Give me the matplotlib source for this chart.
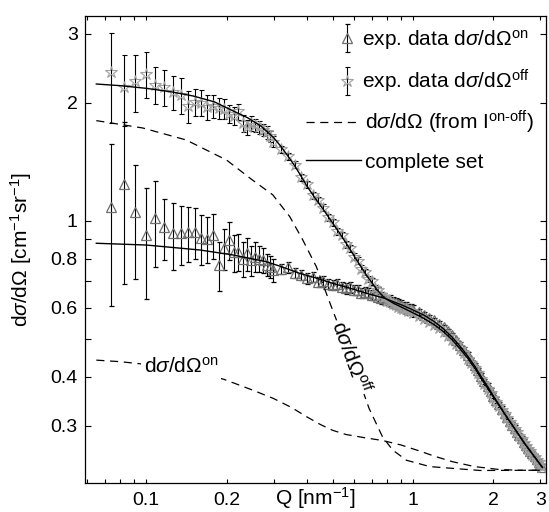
import matplotlib
matplotlib.use("Agg")
import matplotlib.pyplot as plt
from matplotlib.container import ErrorbarContainer
from matplotlib.legend_handler import HandlerErrorbar

plt.rcParams['font.family'] = ['Liberation Sans', 'DejaVu Sans']
plt.rcParams['mathtext.fontset'] = 'custom'
plt.rcParams['mathtext.rm'] = 'Liberation Sans'
plt.rcParams['mathtext.it'] = 'Liberation Sans:italic'
plt.rcParams['mathtext.bf'] = 'Liberation Sans:bold'
plt.rcParams['font.size'] = 15

# ---- measured data (Q in nm^-1) ----
q_lo = [0.0735, 0.0822, 0.0909, 0.0996, 0.1083, 0.117, 0.1257, 0.1344, 0.1431,
        0.1518, 0.1605, 0.1692, 0.1779, 0.1866, 0.1953, 0.204, 0.2127, 0.2214,
        0.2301, 0.2388, 0.2475, 0.2562, 0.2649, 0.2736, 0.2823, 0.291, 0.2997]
q_mid = [0.32, 0.34, 0.36, 0.38, 0.40, 0.42, 0.44, 0.46, 0.48, 0.50, 0.52, 0.54,
         0.56, 0.58, 0.60, 0.62, 0.64, 0.66, 0.68, 0.70, 0.72, 0.74, 0.76, 0.78,
         0.80, 0.82, 0.84, 0.86, 0.88, 0.90, 0.92, 0.94, 0.96, 0.98, 1.00]
q_hi = [1.05, 1.10, 1.15, 1.20, 1.25, 1.30, 1.35, 1.40, 1.45, 1.50, 1.55, 1.60,
        1.65, 1.70, 1.75, 1.80, 1.85, 1.90, 1.95, 2.00, 2.05, 2.10, 2.15, 2.20,
        2.25, 2.30, 2.35, 2.40, 2.45, 2.50, 2.55, 2.60, 2.65, 2.70, 2.75, 2.80,
        2.85, 2.90, 2.95, 3.00, 3.05]

# dσ/dΩ "on" (triangles)
on_lo = [1.086, 1.24, 1.05, 0.92, 1.014, 0.965, 0.929, 0.929, 0.937, 0.937, 0.902,
         0.90, 0.92, 0.771, 0.85, 0.893, 0.83, 0.834, 0.80, 0.826, 0.794, 0.81,
         0.80, 0.794, 0.771, 0.763, 0.748]
on_lo_err = [0.48, 0.55, 0.34, 0.29, 0.25, 0.17, 0.18, 0.16, 0.15, 0.14, 0.13,
             0.12, 0.12, 0.11, 0.10, 0.10, 0.09, 0.09, 0.08, 0.08, 0.07, 0.07,
             0.06, 0.06, 0.05, 0.05, 0.05]
on_mid = [0.755, 0.76, 0.735, 0.727, 0.713, 0.72, 0.699, 0.70, 0.69, 0.686, 0.69,
          0.679, 0.672, 0.676, 0.666, 0.667, 0.655, 0.658, 0.653, 0.646, 0.648,
          0.64, 0.634, 0.636, 0.628, 0.627, 0.619, 0.617, 0.612, 0.608, 0.604,
          0.601, 0.597, 0.595, 0.592]
on_hi = [0.585, 0.576, 0.566, 0.557, 0.546, 0.535, 0.522, 0.51, 0.496, 0.482,
         0.468, 0.455, 0.441, 0.428, 0.415, 0.402, 0.39, 0.379, 0.368, 0.358,
         0.349, 0.34, 0.331, 0.323, 0.316, 0.309, 0.302, 0.296, 0.29, 0.284,
         0.279, 0.273, 0.268, 0.264, 0.259, 0.255, 0.251, 0.247, 0.243, 0.239,
         0.236]
on_rel_err_mid = 0.03
on_rel_err_hi = 0.015

# dσ/dΩ "off" (stars)
off_lo = [2.39, 2.19, 2.27, 2.37, 2.22, 2.19, 2.13, 2.09, 1.96, 2.01, 2.00, 1.95,
          1.96, 1.94, 1.93, 1.87, 1.85, 1.90, 1.77, 1.73, 1.77, 1.75, 1.73, 1.70,
          1.68, 1.64, 1.59]
off_lo_err = [0.62, 0.45, 0.38, 0.32, 0.24, 0.23, 0.21, 0.22, 0.18, 0.16, 0.15,
              0.14, 0.13, 0.12, 0.11, 0.10, 0.10, 0.09, 0.09, 0.08, 0.08, 0.07,
              0.07, 0.06, 0.06, 0.05, 0.05]
off_mid = [1.52, 1.46, 1.39, 1.29, 1.24, 1.16, 1.13, 1.08, 1.02, 0.99, 0.94, 0.92,
           0.87, 0.85, 0.81, 0.79, 0.755, 0.74, 0.71, 0.70, 0.672, 0.665, 0.645,
           0.64, 0.625, 0.62, 0.612, 0.61, 0.604, 0.60, 0.596, 0.594, 0.588,
           0.587, 0.58]
off_hi = [0.572, 0.562, 0.553, 0.542, 0.533, 0.52, 0.509, 0.496, 0.484, 0.47,
          0.459, 0.445, 0.433, 0.42, 0.408, 0.394, 0.384, 0.372, 0.364, 0.353,
          0.345, 0.337, 0.329, 0.321, 0.314, 0.307, 0.301, 0.294, 0.289, 0.282,
          0.278, 0.271, 0.267, 0.262, 0.258, 0.253, 0.25, 0.246, 0.242, 0.238,
          0.235]
off_rel_err_mid = 0.02
off_rel_err_hi = 0.012

# ---- model curves ----
fit_on_q = [0.065, 0.1, 0.159, 0.211, 0.282, 0.32, 0.376, 0.44, 0.501, 0.58, 0.669,
            0.783, 0.9, 1.0, 1.1, 1.2, 1.3, 1.4, 1.5, 1.6, 1.7, 1.8, 1.9, 2.0,
            2.2, 2.4, 2.6, 2.8, 3.05]
fit_on_v = [0.876, 0.867, 0.842, 0.818, 0.786, 0.764, 0.734, 0.712, 0.692, 0.673,
            0.653, 0.634, 0.611, 0.592, 0.574, 0.553, 0.53, 0.505, 0.478, 0.452,
            0.426, 0.40, 0.378, 0.357, 0.322, 0.295, 0.272, 0.254, 0.235]
fit_off_q = [0.065, 0.08, 0.1, 0.125, 0.15, 0.18, 0.21, 0.24, 0.27, 0.30, 0.32,
             0.34, 0.36, 0.38, 0.40, 0.43, 0.46, 0.50, 0.53, 0.57, 0.61, 0.67,
             0.73, 0.78, 0.84, 0.9, 1.0, 1.1, 1.2, 1.3, 1.4, 1.5, 1.6, 1.7, 1.8,
             1.9, 2.0, 2.2, 2.4, 2.6, 2.8, 3.05]
fit_off_v = [2.232, 2.21, 2.176, 2.13, 2.08, 2.01, 1.91, 1.83, 1.74, 1.63, 1.545,
             1.46, 1.38, 1.30, 1.225, 1.14, 1.07, 0.985, 0.93, 0.862, 0.80, 0.725,
             0.668, 0.636, 0.617, 0.603, 0.582, 0.563, 0.543, 0.521, 0.497, 0.471,
             0.446, 0.421, 0.396, 0.374, 0.355, 0.322, 0.295, 0.272, 0.254, 0.235]
dash_off_q = [0.065, 0.097, 0.141, 0.20, 0.25, 0.298, 0.345, 0.386, 0.434, 0.494,
              0.584, 0.684, 0.768, 0.839, 0.944, 1.155, 1.78, 3.0]
dash_off_v = [1.80, 1.724, 1.607, 1.428, 1.27, 1.164, 1.024, 0.893, 0.763, 0.603,
              0.449, 0.332, 0.281, 0.260, 0.245, 0.236, 0.2307, 0.231]
dash_on_q = [0.065, 0.08, 0.10, 0.13, 0.16, 0.1955, 0.25, 0.30, 0.35, 0.40, 0.45,
             0.50, 0.56, 0.65, 0.77, 0.9, 1.05, 1.2, 1.4, 1.7, 2.1, 2.5, 3.0]
dash_on_v = [0.441, 0.437, 0.43, 0.42, 0.408, 0.394, 0.370, 0.352, 0.334, 0.316,
             0.302, 0.292, 0.285, 0.280, 0.275, 0.268, 0.259, 0.251, 0.243, 0.236,
             0.232, 0.231, 0.231]

q = q_lo + q_mid + q_hi
on_vals = on_lo + on_mid + on_hi
off_vals = off_lo + off_mid + off_hi
on_err = on_lo_err + [v * on_rel_err_mid for v in on_mid] + [v * on_rel_err_hi for v in on_hi]
off_err = off_lo_err + [v * off_rel_err_mid for v in off_mid] + [v * off_rel_err_hi for v in off_hi]

fig = plt.figure(figsize=(5.49, 5.12), dpi=100)
ax = fig.add_axes([0.1557, 0.0572, 0.8388, 0.9115])
ax.set_xscale('log')
ax.set_yscale('log')

tri = ax.errorbar(q, on_vals, yerr=on_err, fmt='^', ms=7, mfc='none', mec='#6e6e6e',
                  mew=0.9, ecolor='k', elinewidth=0.8, capsize=1.8, capthick=0.8,
                  zorder=2)
star = ax.errorbar(q, off_vals, yerr=off_err, fmt='*', ms=9, mfc='none', mec='#a0a0a0',
                   mew=0.8, ecolor='k', elinewidth=0.8, capsize=1.8, capthick=0.8,
                   zorder=2)

dash = (0, (6.5, 4.5))
l_dash, = ax.plot(dash_off_q, dash_off_v, color='k', lw=0.9, ls=dash, zorder=3)
ax.plot(dash_on_q, dash_on_v, color='k', lw=0.9, ls=dash, zorder=3)
l_fit, = ax.plot(fit_off_q, fit_off_v, color='k', lw=1.0, zorder=4)
ax.plot(fit_on_q, fit_on_v, color='k', lw=1.0, zorder=4)

ax.text(0.0977, 0.409, r"d$\sigma$/d$\Omega^{\mathrm{on}}$", ha='left', va='baseline',
        fontsize=15, zorder=5, bbox=dict(facecolor='white', edgecolor='none', pad=2.0))
ax.text(0.583, 0.449, r"d$\sigma$/d$\Omega^{\mathrm{off}}$", ha='center', va='center',
        fontsize=15, rotation=-70, rotation_mode='anchor', zorder=5,
        bbox=dict(facecolor='white', edgecolor='none', pad=1.0))

ax.set_xlim(0.0592, 3.146)
ax.set_ylim(0.2147, 3.327)

xt = [0.06, 0.07, 0.08, 0.09, 0.1, 0.2, 0.3, 0.4, 0.5, 0.6, 0.7, 0.8, 0.9, 1, 2, 3]
xl = ['', '', '', '', '0.1', '0.2', '', '', '', '', '', '', '', '1', '2', '3']
yt = [0.3, 0.4, 0.5, 0.6, 0.7, 0.8, 0.9, 1, 2, 3]
yl = ['0.3', '0.4', '', '0.6', '', '0.8', '', '1', '2', '3']
ax.set_xticks(xt, xl)
ax.set_yticks(yt, yl)
ax.minorticks_off()
ax.tick_params(axis='both', direction='in', top=True, right=True, width=0.8,
               labelsize=14)
ax.tick_params(axis='x', length=3, pad=7.0)
ax.tick_params(axis='y', length=4, pad=5.5)
for s in ax.spines.values():
    s.set_linewidth(0.9)

ax.set_xlabel(r"Q [nm$^{-1}$]", fontsize=15)
ax.xaxis.set_label_coords(0.5, -0.048)
ax.xaxis.label.set_va('baseline')
ax.set_ylabel(r"d$\sigma$/d$\Omega$ [cm$^{-1}$sr$^{-1}$]", fontsize=15)
ax.yaxis.set_label_coords(-0.14, 0.5)
ax.yaxis.label.set_va('center')

hmap = {ErrorbarContainer: HandlerErrorbar(yerr_size=0.67, numpoints=1)}
W, H = 549.0, 512.0
rows = [
    (tri, r"exp. data d$\sigma$/d$\Omega^{\mathrm{on}}$", 338.7, 40, 0.8, 0.32),
    (star, r"exp. data d$\sigma$/d$\Omega^{\mathrm{off}}$", 338.7, 81, 0.8, 0.32),
    (l_dash, "d$\\sigma$/d$\\Omega$ (from I$^{\\mathrm{on\u2010off}}$)", 306, 122, 2.64, 0.2),
    (l_fit, "complete set", 306, 162, 2.64, 0.2),
]
for i, (h, lab, px, py, hl, tp) in enumerate(rows):
    leg = ax.legend([h], [lab], loc='center left', bbox_to_anchor=(px / W, 1 - py / H),
                    bbox_transform=fig.transFigure, frameon=False, borderpad=0,
                    borderaxespad=0, handlelength=hl, handletextpad=tp, fontsize=15,
                    handler_map=hmap)
    if i < len(rows) - 1:
        ax.add_artist(leg)

fig.savefig('out.png', dpi=100)
